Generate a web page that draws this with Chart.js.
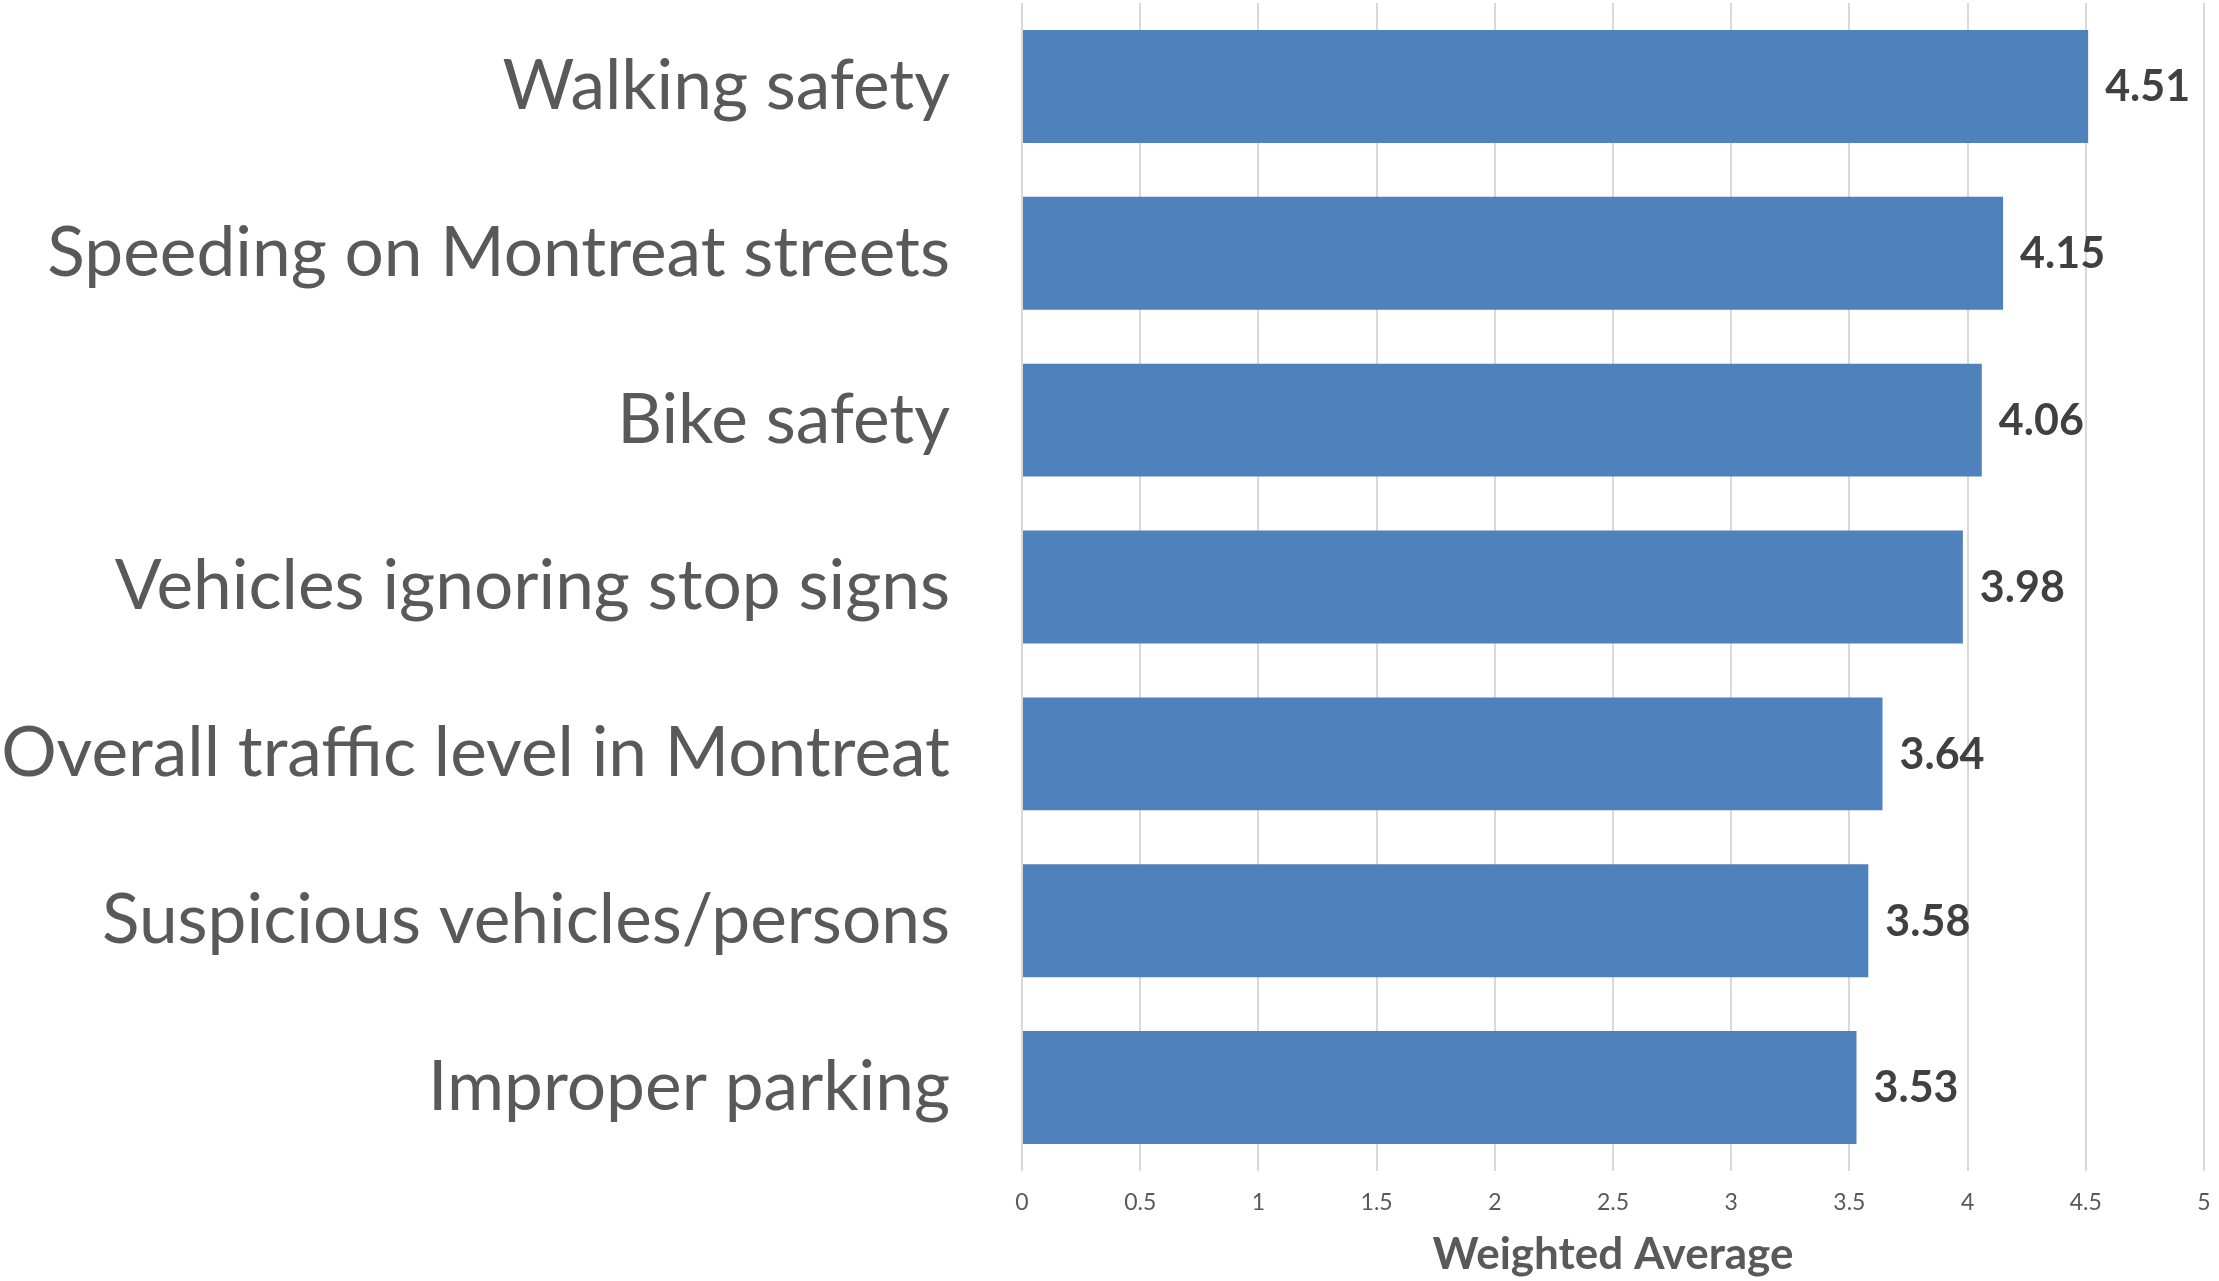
<!DOCTYPE html>
<html>
<head>
<meta charset="utf-8">
<script src="https://cdn.jsdelivr.net/npm/chart.js@4.4.1/dist/chart.umd.min.js"></script>
<style>
  html, body { margin: 0; padding: 0; background: #ffffff; }
  #wrap { width: 2219px; height: 1281px; position: relative; }
</style>
</head>
<body>
<div id="wrap"><canvas id="chart"></canvas></div>
<script>
// Dados
const categories = [
  'Walking safety',
  'Speeding on Montreat streets',
  'Bike safety',
  'Vehicles ignoring stop signs',
  'Overall traffic level in Montreat',
  'Suspicious vehicles/persons',
  'Improper parking'
];
const weightedAverage = [4.51, 4.15, 4.06, 3.98, 3.64, 3.58, 3.53];
const xTicks = [0, 0.5, 1, 1.5, 2, 2.5, 3, 3.5, 4, 4.5, 5];
const axisTitle = 'Weighted Average';

const colors = {
  bar: '#4F81BD',
  grid: '#D9D9D9',
  text: '#595959',
  value: '#404040'
};
const fontFamily = 'Lato, "Open Sans", sans-serif';

// rótulos de valor ao lado de cada barra
const valueLabels = {
  id: 'valueLabels',
  afterDatasetsDraw(chart) {
    const ctx = chart.ctx;
    const meta = chart.getDatasetMeta(0);
    ctx.save();
    ctx.font = 'bold 43px ' + fontFamily;
    ctx.fillStyle = colors.value;
    ctx.textAlign = 'left';
    ctx.textBaseline = 'middle';
    meta.data.forEach((bar, i) => {
      ctx.fillText(weightedAverage[i].toFixed(2), bar.x + 17, bar.y + 1);
    });
    ctx.restore();
  }
};

const ctx = document.getElementById('chart').getContext('2d');
new Chart(ctx, {
  type: 'bar',
  data: {
    labels: categories,
    datasets: [{
      data: weightedAverage,
      backgroundColor: colors.bar,
      borderWidth: 0,
      categoryPercentage: 1,
      barPercentage: 0.677
    }]
  },
  options: {
    indexAxis: 'y',
    responsive: true,
    maintainAspectRatio: false,
    animation: false,
    layout: { padding: { top: 3, right: 15, left: 0, bottom: 0 } },
    plugins: {
      legend: { display: false },
      tooltip: { enabled: false }
    },
    scales: {
      x: {
        min: 0,
        max: 5,
        afterBuildTicks(scale) {
          scale.ticks = xTicks.map(v => ({ value: v }));
        },
        afterFit(scale) {
          scale.height = 110;
          scale.paddingLeft = 0;
          scale.paddingRight = 0;
        },
        grid: { color: colors.grid, lineWidth: 2, drawTicks: false },
        border: { display: false },
        ticks: {
          color: colors.text,
          padding: 18,
          font: { family: fontFamily, size: 23 },
          callback: v => String(v)
        },
        title: {
          display: true,
          text: axisTitle,
          color: colors.text,
          font: { family: fontFamily, size: 44, weight: 'bold' },
          padding: { top: 0, bottom: 0 }
        }
      },
      y: {
        afterFit(scale) {
          scale.width = 1022;
          scale.paddingTop = 0;
          scale.paddingBottom = 0;
        },
        grid: { display: false, drawTicks: false },
        border: { display: false },
        ticks: {
          color: colors.text,
          padding: 72,
          font: { family: fontFamily, size: 69.4 }
        }
      }
    }
  },
  plugins: [valueLabels]
});
</script>
</body>
</html>
